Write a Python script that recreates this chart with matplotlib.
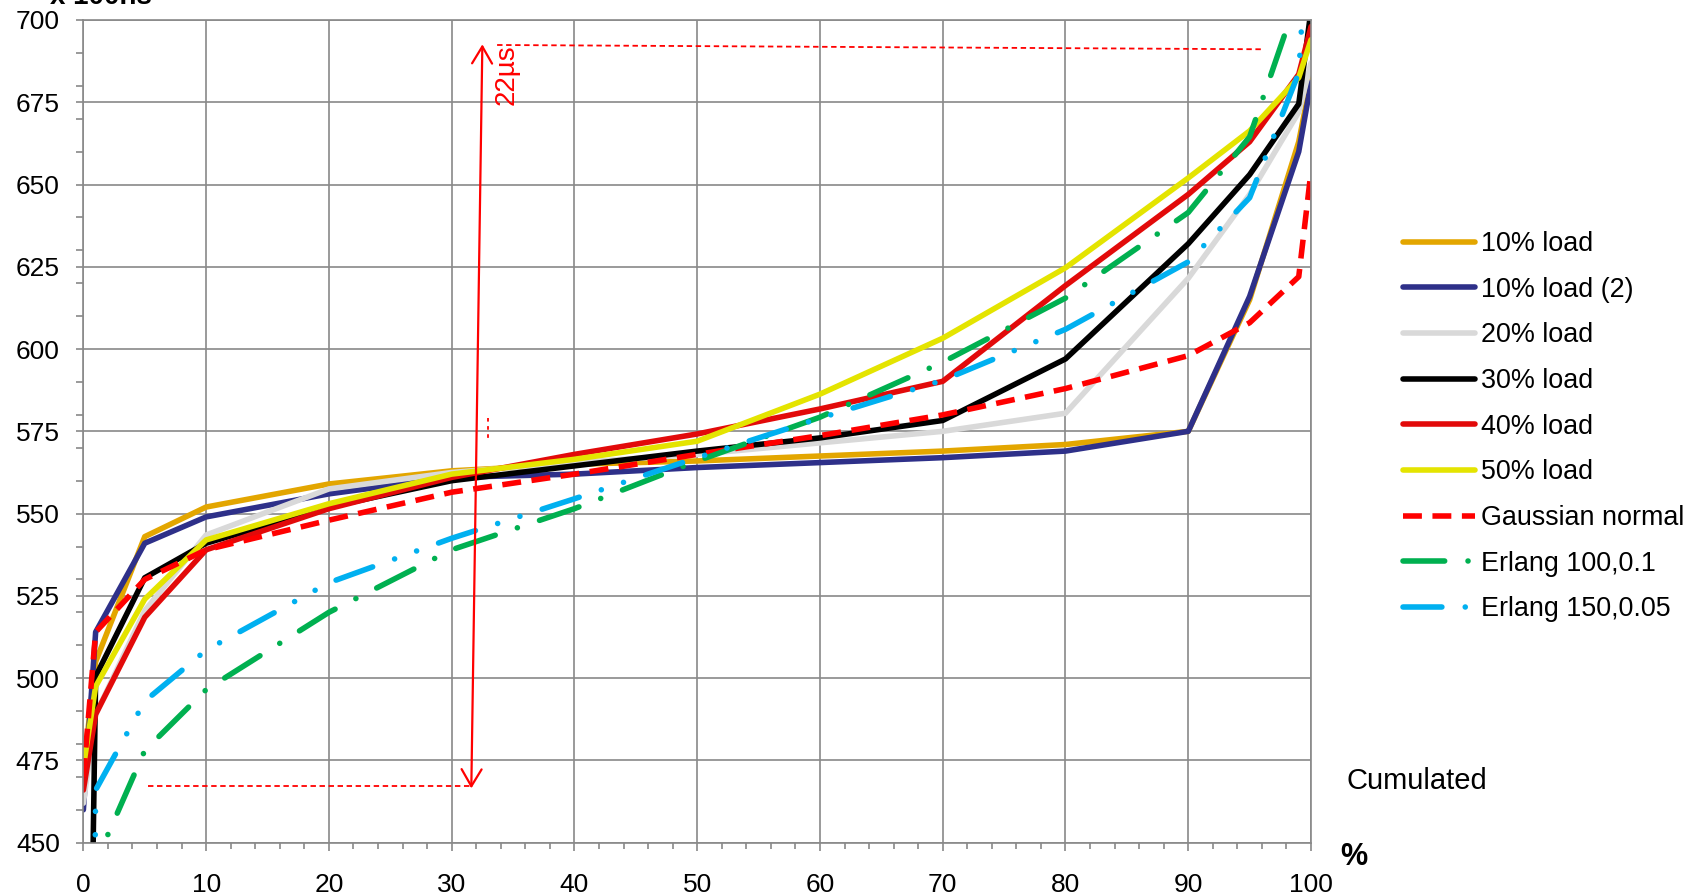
import matplotlib
matplotlib.use("Agg")
import matplotlib.pyplot as plt
from matplotlib.patches import ArrowStyle

plt.rcParams['font.family'] = ['Liberation Sans', 'DejaVu Sans']

# cumulated percentage (x axis)
cum_pct = [0, 1, 5, 10, 20, 30, 40, 50, 60, 70, 80, 90, 95, 99, 100]

# latency in units of 100ns
load10 = [472, 505, 543, 552, 559, 563, 565, 566, 567.5, 569, 571, 575, 615, 663, 682]
load10_2 = [460, 514, 541, 549, 556, 561, 562, 564, 565.5, 567, 569, 575, 616, 660, 681]
load20 = [462, 489, 520.5, 543.5, 557.5, 562.5, 565.5, 568, 571.5, 575, 580.5, 621.5, 647, 672, 687]
load30 = [250, 500.5, 530.5, 541, 552, 560, 564.5, 569, 573, 578.3, 597, 632, 653, 674.5, 703]
load40 = [466, 489, 518.5, 539, 551.5, 561, 568, 574.2, 581.8, 590.2, 619.3, 647, 663, 683.5, 698]
load50 = [473, 497.5, 524, 542, 553, 562, 566.5, 572, 586.3, 603.3, 624.7, 652, 666.3, 682.5, 694]
gauss = [470, 514, 530, 539, 548, 556.5, 562, 568, 573.7, 580, 588, 598, 608, 622, 654]
erlang100 = [0, 444, 478, 496.5, 520, 539, 551.5, 566, 579.3, 596, 615.5, 641.5, 664.5, 708, 740]
erlang150 = [0, 466, 493, 508.5, 529, 542.5, 554.5, 567, 579, 590.5, 606, 626.5, 646, 684, 745]

fig = plt.figure(figsize=(16.98, 8.96), dpi=100)
ax = fig.add_axes([0.0491, 0.0595, 0.7230, 0.9182])

lw = 4.0
kw = dict(lw=lw, solid_joinstyle='round', solid_capstyle='round')
ax.plot(cum_pct, load10, color='#E3A600', label='10% load', **kw)
ax.plot(cum_pct, load10_2, color='#2E3089', label='10% load (2)', **kw)
ax.plot(cum_pct, load20, color='#D9D9D9', label='20% load', **kw)
ax.plot(cum_pct, load30, color='#000000', label='30% load', **kw)
ax.plot(cum_pct, load40, color='#E20A0A', label='40% load', **kw)
ax.plot(cum_pct, load50, color='#E4E400', label='50% load', **kw)
ax.plot(cum_pct, gauss, color='#FF0000', lw=lw, linestyle=(0, (3.4, 1.9)),
        dash_joinstyle='round', label='Gaussian normal')
ax.plot(cum_pct, erlang100, color='#00B050', lw=lw, dash_capstyle='round',
        linestyle=(0, (7.5, 4.2, 0.01, 4.2)), label='Erlang 100,0.1')
ax.plot(cum_pct, erlang150, color='#00B0F0', lw=lw, dash_capstyle='round',
        linestyle=(0, (7, 4.2, 0.01, 4.2, 0.01, 4.2)), label='Erlang 150,0.05')

# 22us spread annotation
ax.annotate('', xy=(32.5, 692.6), xytext=(31.6, 466.5),
            arrowprops=dict(arrowstyle=ArrowStyle('<->', head_length=0.61, head_width=0.36),
                            mutation_scale=20, color='red', lw=1.6,
                            shrinkA=0, shrinkB=0))
ax.plot([33.7, 96], [692.4, 691.1], color='red', lw=1.3, linestyle=(0, (3, 2)))
ax.plot([5.3, 31.7], [467.2, 467.2], color='red', lw=1.3, linestyle=(0, (3, 2)))
ax.plot([33.0, 33.0], [579, 572], color='red', lw=1.3, linestyle=(0, (2, 2.5)))
ax.text(34.5, 683.5, '22µs', color='red', rotation=90, fontsize=20,
        ha='center', va='center')

ax.set_xlim(0, 100)
ax.set_ylim(450, 700)
ax.set_xticks(range(0, 101, 10))
ax.set_xticks(range(0, 101, 2), minor=True)
ax.set_yticks(range(450, 701, 25))
ax.set_yticks(range(450, 701, 10), minor=True)
ax.grid(True, which='major', color='#898989', lw=1.2)
ax.set_axisbelow(True)
for s in ax.spines.values():
    s.set_color('#898989')
    s.set_linewidth(1.2)
ax.tick_params(axis='both', which='both', direction='out', color='#898989',
               width=1.2, labelsize=19)
ax.tick_params(axis='y', which='both', length=5, pad=12)
ax.tick_params(axis='x', which='major', length=6, pad=16)
ax.tick_params(axis='x', which='minor', length=4)

leg = ax.legend(loc='upper left', bbox_to_anchor=(1403 / 1698, 1 - 231 / 896),
                bbox_transform=fig.transFigure, frameon=False, fontsize=19.4,
                handlelength=2.68, handletextpad=0.2, labelspacing=0.73,
                borderpad=0, borderaxespad=0)

fig.text(50 / 1698, 1 - 4 / 896, 'x 100ns', fontsize=20, fontweight='bold',
         ha='left', va='baseline')
fig.text(1347 / 1698, 1 - 781 / 896, 'Cumulated', fontsize=21, ha='left', va='center')
fig.text(1340 / 1698, 1 - 857 / 896, '%', fontsize=22, fontweight='bold',
         ha='left', va='center')

fig.savefig('out.png', dpi=100)
